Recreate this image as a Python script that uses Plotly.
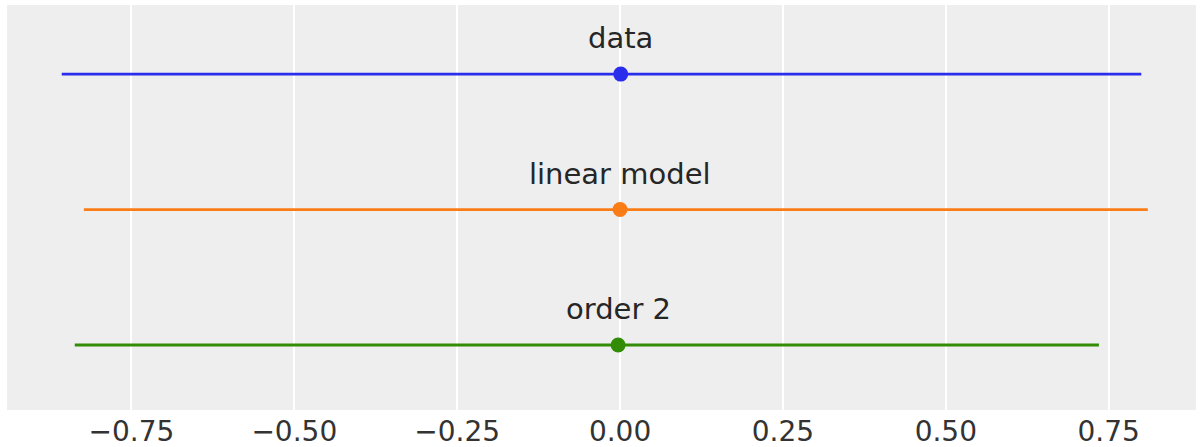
import plotly.graph_objects as go

labels = ["data", "linear model", "order 2"]
centers = [0.001, 0.0, -0.003]
lows = [-0.857, -0.823, -0.837]
highs = [0.800, 0.810, 0.735]
ypos = [2, 1, 0]
colors = ["#2a2eec", "#fa7c17", "#328c06"]
tick_vals = [-0.75, -0.5, -0.25, 0.0, 0.25, 0.5, 0.75]

fig = go.Figure()
for lab, c, lo, hi, y, col in zip(labels, centers, lows, highs, ypos, colors):
    fig.add_trace(go.Scatter(x=[lo, hi], y=[y, y], mode="lines",
                             line=dict(color=col, width=2.8), showlegend=False))
    fig.add_trace(go.Scatter(x=[c], y=[y], mode="markers",
                             marker=dict(color=col, size=15), showlegend=False))
    fig.add_annotation(x=c, y=y, text=lab, showarrow=False, yshift=36,
                       font=dict(size=29, color="#262626", family="DejaVu Sans"))

fig.update_layout(
    width=1201, height=447,
    margin=dict(l=7, r=5, t=5, b=37),
    paper_bgcolor="white", plot_bgcolor="#eeeeee",
    font=dict(family="DejaVu Sans", size=28, color="#333333"),
)
fig.update_xaxes(range=[-0.941, 0.884], tickvals=tick_vals, tickformat=".2f",
                 showgrid=True, gridcolor="white", gridwidth=1.5, zeroline=False,
                 ticks="", showline=False, ticklabelstandoff=2, automargin=False)
fig.update_yaxes(range=[-0.48, 2.51], showgrid=False, zeroline=False,
                 showticklabels=False, ticks="", showline=False, automargin=False)
fig.write_html("out.html", config={"displayModeBar": False},
               post_script="document.body.style.margin='0';document.body.style.overflow='hidden';")
